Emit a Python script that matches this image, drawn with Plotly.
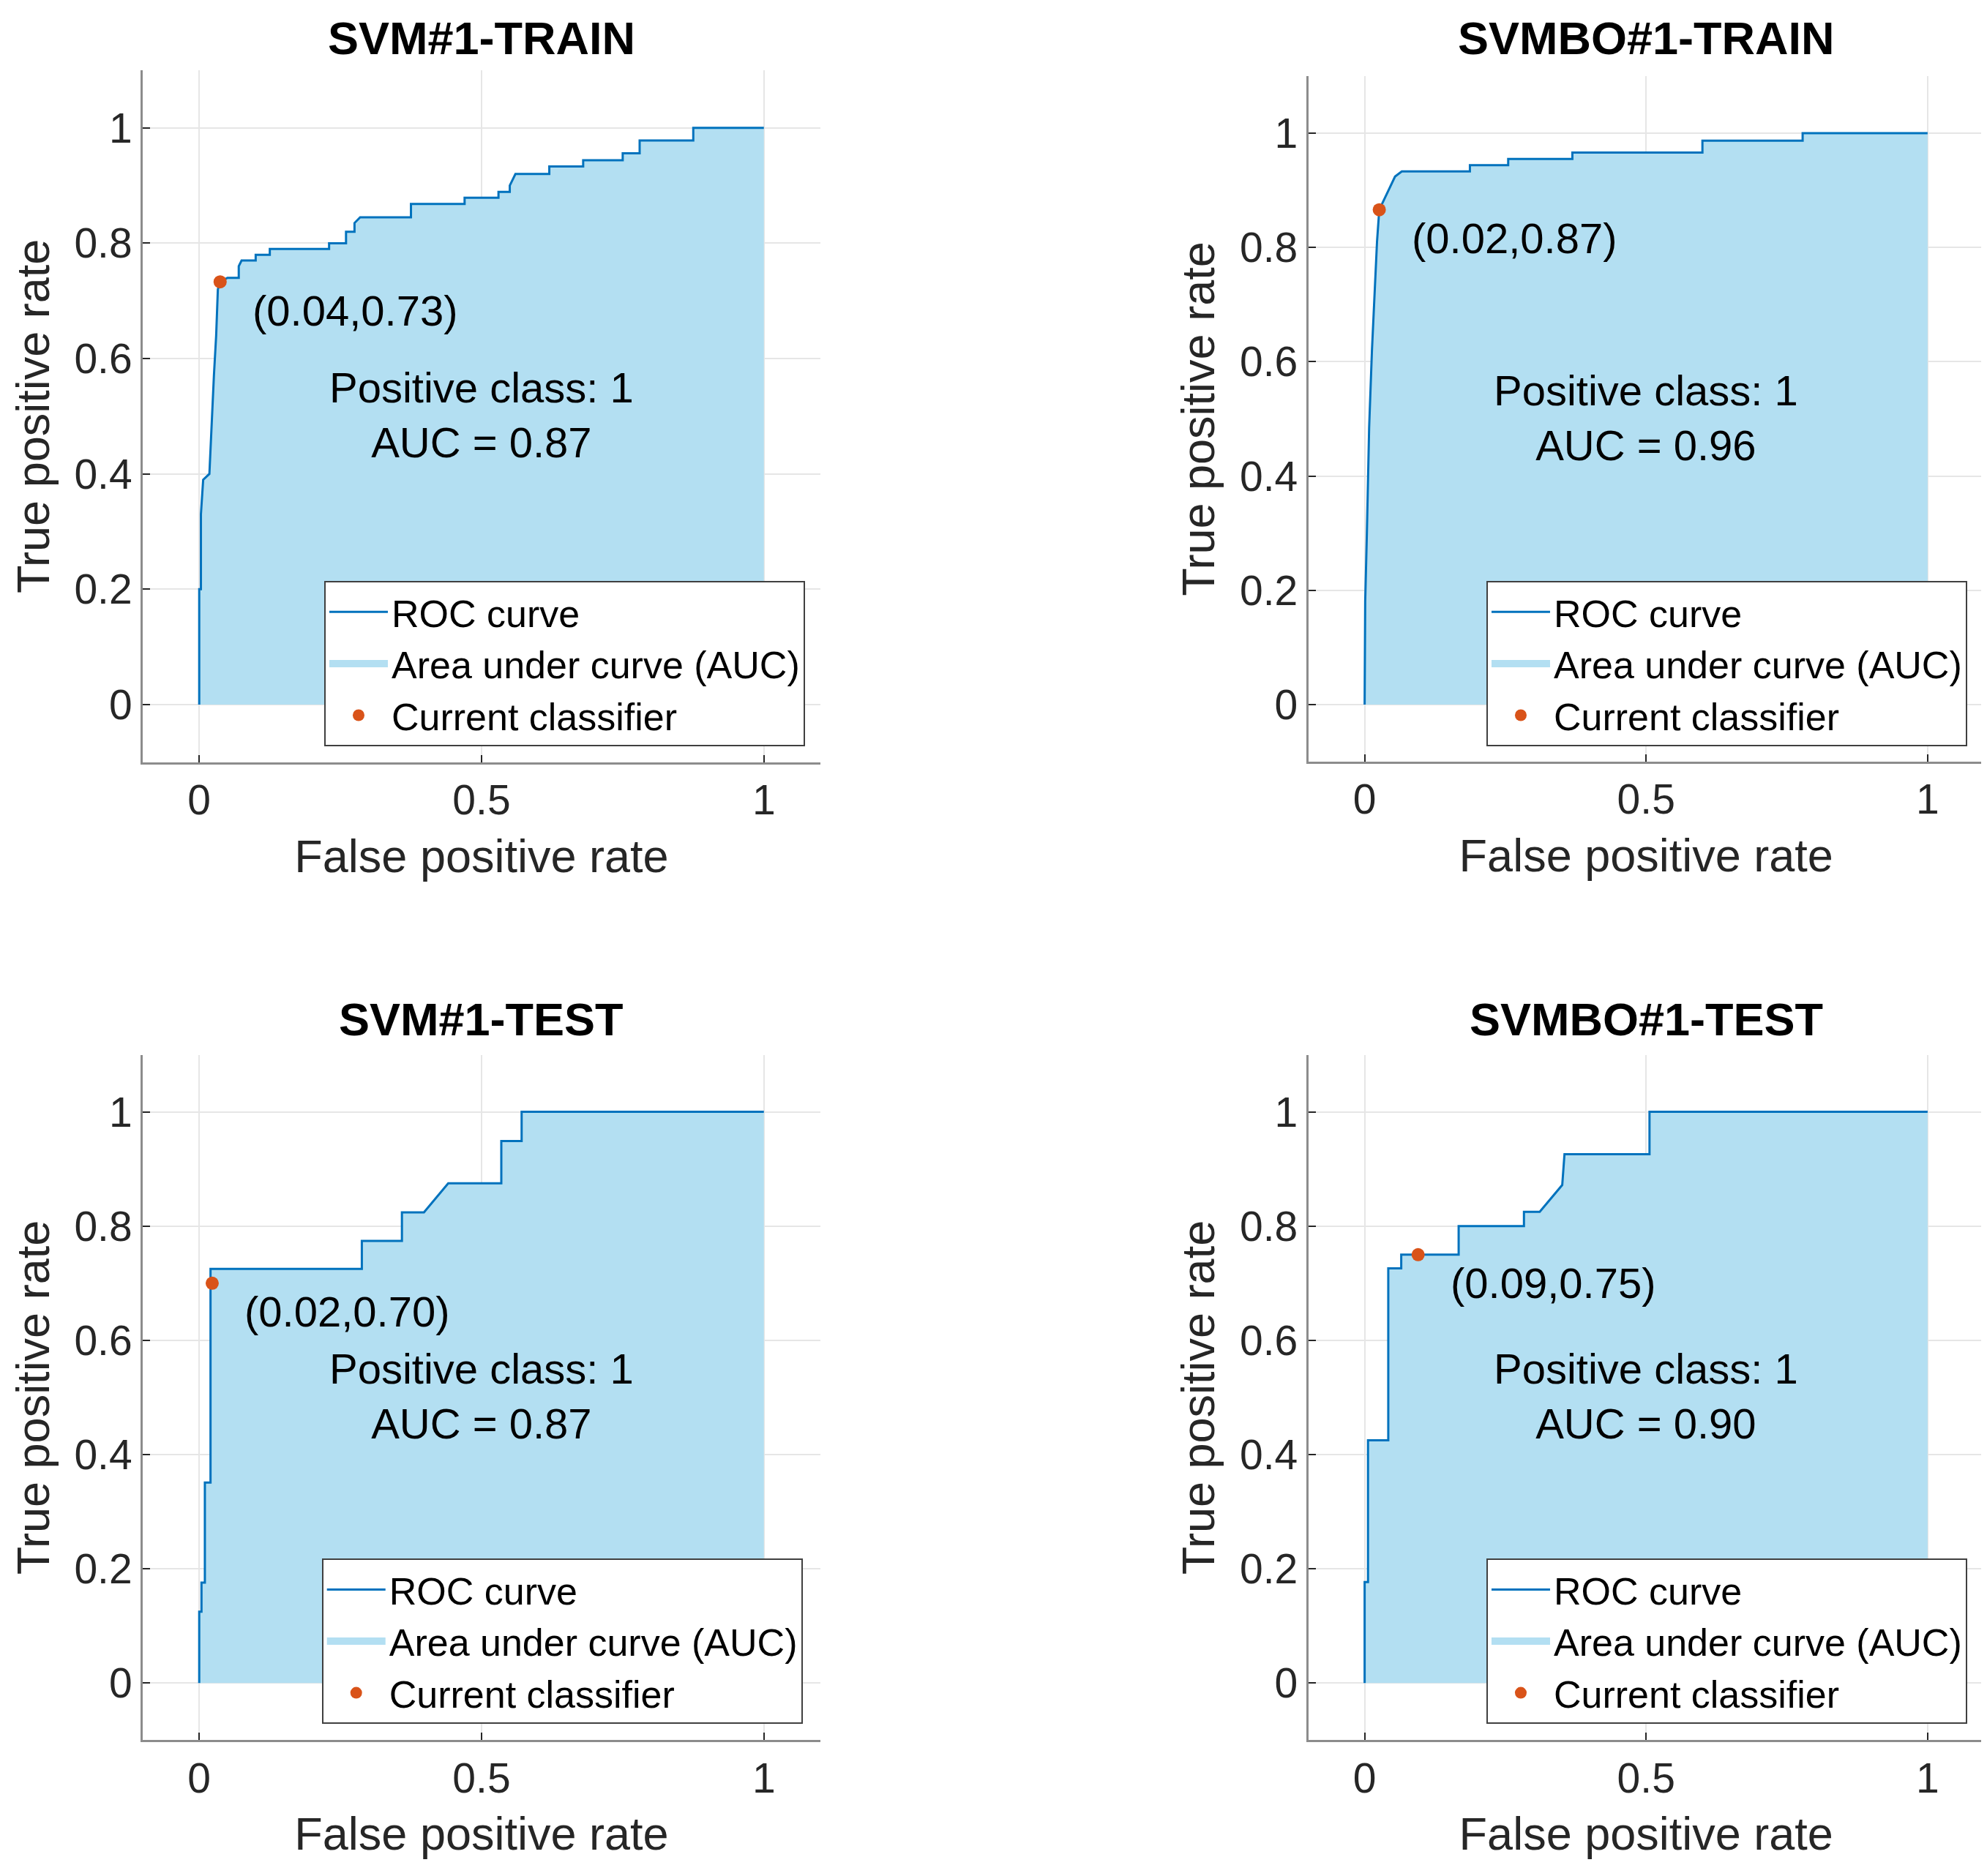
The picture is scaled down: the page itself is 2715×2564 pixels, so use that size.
import plotly.graph_objects as go

# ---------------- data ----------------
titles = ["SVM#1-TRAIN", "SVMBO#1-TRAIN", "SVM#1-TEST", "SVMBO#1-TEST"]
auc_values = ["0.87", "0.96", "0.87", "0.90"]
positive_class = "1"

svm_train_fpr = [0, 0, 0.003, 0.003, 0.007, 0.018, 0.026, 0.030, 0.033, 0.037, 0.050, 0.070, 0.070,
                 0.075, 0.100, 0.100, 0.125, 0.125, 0.230, 0.230, 0.260, 0.260, 0.275, 0.275, 0.285,
                 0.375, 0.375, 0.470, 0.470, 0.530, 0.530, 0.550, 0.550, 0.560, 0.620, 0.620, 0.680,
                 0.680, 0.750, 0.750, 0.780, 0.780, 0.875, 0.875, 1.0]
svm_train_tpr = [0, 0.20, 0.20, 0.33, 0.39, 0.40, 0.57, 0.64, 0.72, 0.733, 0.74, 0.74, 0.76,
                 0.77, 0.77, 0.78, 0.78, 0.79, 0.79, 0.80, 0.80, 0.82, 0.82, 0.835, 0.845,
                 0.845, 0.868, 0.868, 0.879, 0.879, 0.889, 0.889, 0.900, 0.920, 0.920, 0.933, 0.933,
                 0.944, 0.944, 0.956, 0.956, 0.978, 0.978, 1.0, 1.0]

svmbo_train_fpr = [0, 0.001, 0.004, 0.008, 0.013, 0.018, 0.022, 0.026, 0.035, 0.046, 0.054, 0.066,
                   0.187, 0.187, 0.255, 0.255, 0.369, 0.369, 0.600, 0.600, 0.778, 0.778, 1.0]
svmbo_train_tpr = [0, 0.18, 0.30, 0.485, 0.62, 0.72, 0.81, 0.866, 0.884, 0.906, 0.924, 0.933,
                   0.933, 0.944, 0.944, 0.955, 0.955, 0.966, 0.966, 0.987, 0.987, 1.0, 1.0]

svm_test_fpr = [0, 0, 0.004, 0.004, 0.010, 0.010, 0.020, 0.020, 0.288, 0.288, 0.359, 0.359,
                0.398, 0.441, 0.535, 0.535, 0.571, 0.571, 1.0]
svm_test_tpr = [0, 0.125, 0.125, 0.176, 0.176, 0.351, 0.351, 0.725, 0.725, 0.774, 0.774, 0.824,
                0.824, 0.875, 0.875, 0.949, 0.949, 1.0, 1.0]

svmbo_test_fpr = [0, 0, 0.006, 0.006, 0.042, 0.042, 0.065, 0.065, 0.167, 0.167, 0.283, 0.283,
                  0.311, 0.351, 0.355, 0.506, 0.506, 1.0]
svmbo_test_tpr = [0, 0.177, 0.177, 0.425, 0.425, 0.726, 0.726, 0.750, 0.750, 0.800, 0.800, 0.825,
                  0.825, 0.872, 0.926, 0.926, 1.0, 1.0]

op_fpr = [0.037, 0.026, 0.023, 0.095]
op_tpr = [0.733, 0.866, 0.700, 0.750]
op_labels = ["(0.04,0.73)", "(0.02,0.87)", "(0.02,0.70)", "(0.09,0.75)"]

x_ticks = [0, 0.5, 1]
x_tick_labels = ["0", "0.5", "1"]
y_ticks = [0, 0.2, 0.4, 0.6, 0.8, 1]
y_tick_labels = ["0", "0.2", "0.4", "0.6", "0.8", "1"]

legend_names = ["ROC curve", "Area under curve (AUC)", "Current classifier"]
x_title = "False positive rate"
y_title = "True positive rate"

curves_fpr = [svm_train_fpr, svmbo_train_fpr, svm_test_fpr, svmbo_test_fpr]
curves_tpr = [svm_train_tpr, svmbo_train_tpr, svm_test_tpr, svmbo_test_tpr]

# ---------------- style / layout ----------------
W, H = 2715, 2564
FONT = "Liberation Sans, Arial, Helvetica, sans-serif"
TXT = "#262626"
LINE_BLUE = "#0072BD"
FILL_BLUE = "rgb(179,223,242)"
ORANGE = "#D95319"

x_domains = [[0.0689, 0.4099], [0.6555, 0.9955], [0.0689, 0.4099], [0.6555, 0.9955]]
y_domains = [[0.5968, 0.9657], [0.5971, 0.9626], [0.0755, 0.4409], [0.0755, 0.4409]]
title_y = [0.9830, 0.9830, 0.4598, 0.4598]
legend_pos = [(0.4022, 0.6053), (0.9871, 0.6053), (0.4010, 0.0842), (0.9871, 0.0842)]

fig = go.Figure()
annotations = []
layout_axes = {}

for i in range(4):
    sfx = "" if i == 0 else str(i + 1)
    xa, ya = "x" + sfx, "y" + sfx
    lg = "legend" + sfx

    # area under curve (fill only; its legend key is a legend-only twin below)
    fig.add_trace(go.Scatter(
        x=curves_fpr[i], y=curves_tpr[i], mode="lines", fill="tozeroy",
        fillcolor=FILL_BLUE, line=dict(width=0, color=FILL_BLUE),
        name=legend_names[1], showlegend=False, xaxis=xa, yaxis=ya,
        hoverinfo="skip"))
    fig.add_trace(go.Scatter(
        x=[None], y=[None], mode="lines",
        line=dict(width=40, color=FILL_BLUE),
        name=legend_names[1], legend=lg, legendrank=2, xaxis=xa, yaxis=ya))
    # ROC curve
    fig.add_trace(go.Scatter(
        x=curves_fpr[i], y=curves_tpr[i], mode="lines",
        line=dict(width=3, color=LINE_BLUE),
        name=legend_names[0], legend=lg, legendrank=1, xaxis=xa, yaxis=ya))
    # operating point
    fig.add_trace(go.Scatter(
        x=[op_fpr[i]], y=[op_tpr[i]], mode="markers",
        marker=dict(size=18, color=ORANGE),
        name=legend_names[2], legend=lg, legendrank=3, xaxis=xa, yaxis=ya))

    axis_common = dict(
        range=[-0.1, 1.1], showline=True, linecolor="#8c8c8c", linewidth=3, mirror=False,
        showgrid=True, gridcolor="#e6e6e6", gridwidth=2, zeroline=False,
        ticks="inside", ticklen=10, tickwidth=2, tickcolor=TXT,
        tickfont=dict(family=FONT, size=57, color=TXT),
    )
    layout_axes["xaxis" + sfx] = dict(
        axis_common, domain=x_domains[i], anchor=ya,
        tickvals=x_ticks, ticktext=x_tick_labels,
        title=dict(text=x_title, font=dict(family=FONT, size=63, color=TXT), standoff=24))
    layout_axes["yaxis" + sfx] = dict(
        axis_common, domain=y_domains[i], anchor=xa,
        tickvals=y_ticks, ticktext=y_tick_labels,
        title=dict(text=y_title, font=dict(family=FONT, size=63, color=TXT), standoff=14))

    layout_axes[lg] = dict(
        x=legend_pos[i][0], y=legend_pos[i][1], xanchor="right", yanchor="bottom",
        xref="paper", yref="paper",
        bgcolor="white", bordercolor="#404040", borderwidth=2,
        font=dict(family=FONT, size=52, color="#000000"),
        itemwidth=80, tracegroupgap=0)

    # title
    annotations.append(dict(
        text="<b>" + titles[i] + "</b>", x=sum(x_domains[i]) / 2, y=title_y[i],
        xref="paper", yref="paper", xanchor="center", yanchor="middle", showarrow=False,
        font=dict(family=FONT, size=63, color="#000000")))
    # operating point label
    annotations.append(dict(
        text=op_labels[i], x=op_fpr[i] + 0.055, y=op_tpr[i] - 0.05, xref=xa, yref=ya,
        xanchor="left", yanchor="middle", showarrow=False,
        font=dict(family=FONT, size=58, color="#000000")))
    # class / AUC label
    annotations.append(dict(
        text="Positive class: " + positive_class + "<br>AUC = " + auc_values[i],
        x=0.5, y=0.502, xref=xa, yref=ya, xanchor="center", yanchor="middle",
        showarrow=False, align="center",
        font=dict(family=FONT, size=58, color="#000000")))

fig.update_layout(
    width=W, height=H, margin=dict(l=0, r=0, t=0, b=0),
    paper_bgcolor="white", plot_bgcolor="white",
    annotations=annotations, **layout_axes)

fig.write_html("out.html")
